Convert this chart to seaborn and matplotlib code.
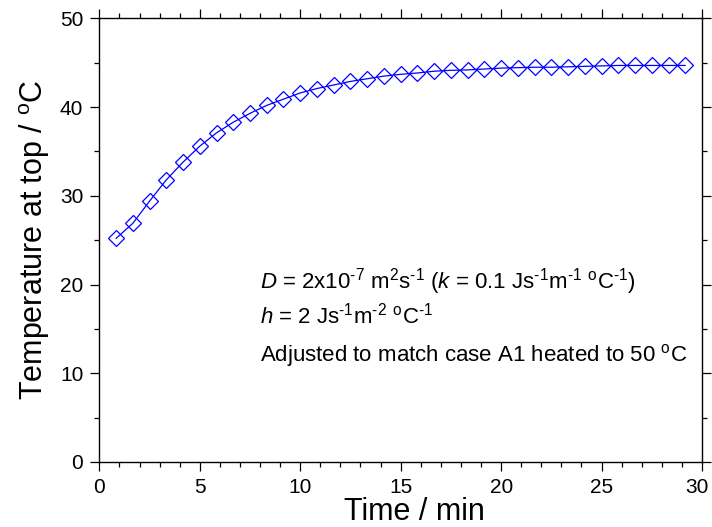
import matplotlib
matplotlib.use("Agg")
import matplotlib.pyplot as plt
from matplotlib.ticker import MultipleLocator
from matplotlib.transforms import ScaledTranslation
import pandas as pd
import seaborn as sns

# sampled every 50 s
step = [n for n in range(1, 36)]
temp = [25.2, 26.9, 29.4, 31.8, 33.8, 35.6, 37.1, 38.3, 39.3, 40.2,
        40.9, 41.6, 42.1, 42.5, 42.9, 43.2, 43.5, 43.7, 43.85, 44.05,
        44.15, 44.2, 44.3, 44.4, 44.45, 44.5, 44.5, 44.55, 44.6, 44.65,
        44.7, 44.7, 44.7, 44.7, 44.7]

df = pd.DataFrame({"time": [n * 50 / 60 for n in step], "temp": temp})

sns.set_style("ticks")
plt.rcParams["font.family"] = ["Liberation Sans", "DejaVu Sans"]
plt.rcParams["mathtext.fontset"] = "custom"
plt.rcParams["mathtext.rm"] = "Liberation Sans"
plt.rcParams["mathtext.it"] = "Liberation Sans:italic"
plt.rcParams["text.color"] = "black"
plt.rcParams["axes.labelcolor"] = "black"

fig = plt.figure(figsize=(7.12, 5.27), dpi=100)
ax = fig.add_axes([0.1395, 0.1235, 0.8465, 0.8415])

sns.lineplot(data=df, x="time", y="temp", ax=ax, color="#0000ff", lw=0.9,
             marker="D", markersize=8, markerfacecolor="none",
             markeredgecolor="#0000ff", markeredgewidth=0.9)

ax.set_xlim(0, 30)
ax.set_ylim(0, 50)
ax.xaxis.set_major_locator(MultipleLocator(5))
ax.xaxis.set_minor_locator(MultipleLocator(1))
ax.yaxis.set_major_locator(MultipleLocator(10))
ax.yaxis.set_minor_locator(MultipleLocator(5))
ax.tick_params(which="both", direction="out", top=True, right=True,
               labeltop=False, labelright=False, colors="black", width=0.9)
ax.tick_params(which="major", length=6.5, labelsize=15, pad=5)
ax.tick_params(which="minor", length=3.5)
for s in ax.spines.values():
    s.set_linewidth(1.0)
    s.set_color("black")

# last x label sits a little left of its tick, as in the original
fig.canvas.draw()
for lab in ax.get_xticklabels():
    if lab.get_text() == "30":
        lab.set_transform(lab.get_transform() + ScaledTranslation(-4 / 72, 0, fig.dpi_scale_trans))

ax.set_xlabel("Time / min", fontsize=22)
ax.xaxis.set_label_coords(0.522, -0.079)
ax.set_ylabel("Temperature at top / $^{\\rm o}$C", fontsize=22, labelpad=6)

txt = dict(fontsize=16, color="black")
ax.text(8.0, 19.55, "$D$ = 2x10$^{\\text{-7}}$ m$^2$s$^{\\text{-1}}$ ($k$ = 0.1 Js$^{\\text{-1}}$m$^{\\text{-1}}$ $^{\\rm o}$C$^{\\text{-1}}$)", **txt)
ax.text(8.0, 15.6, "$h$ = 2 Js$^{\\text{-1}}$m$^{\\text{-2}}$ $^{\\rm o}$C$^{\\text{-1}}$", **txt)
ax.text(8.0, 11.35, "Adjusted to match case A1 heated to 50 $^{\\rm o}$C", **txt)

fig.savefig("out.png", dpi=100)
